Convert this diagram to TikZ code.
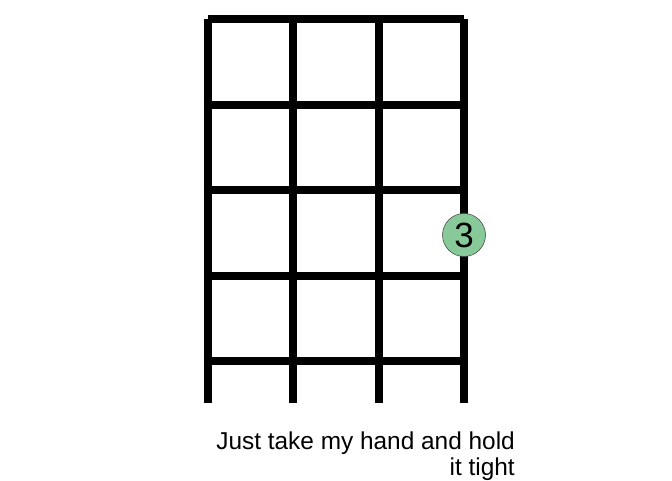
\documentclass[tikz,border=0pt]{standalone}
\usepackage{fontspec}
\setmainfont{Liberation Sans}
\begin{document}
\begin{tikzpicture}[x=1pt,y=-1pt,
  fret/.style={line width=8pt,line cap=butt},
  finger/.style={circle,draw=black!70,line width=0.6pt,fill={rgb,255:red,136;green,201;blue,153},minimum size=43pt,inner sep=0pt,font=\fontsize{35}{35}\selectfont},
  lyric/.style={align=right,font=\fontsize{24.4}{26}\selectfont,inner sep=0pt,anchor=north east}]
\useasboundingbox (0,0) rectangle (672,480);
% strings
\foreach \i/\x in {1/207.5,2/293,3/378.5,4/464}{
  \coordinate (s\i t) at (\x,19);
  \coordinate (s\i b) at (\x,403);
  \draw[fret] (s\i t) -- (s\i b);
}
% nut
\coordinate (nl) at (207.5,18.5);
\coordinate (nr) at (464,18.5);
\draw[fret] (nl) -- (nr);
% frets
\foreach \j/\y in {1/104.5,2/190,3/275.5,4/361}{
  \coordinate (f\j l) at (203.5,\y);
  \coordinate (f\j r) at (468,\y);
  \draw[fret] (f\j l) -- (f\j r);
}
\node[finger] (dot) at (464,235) {3};
\node[lyric] (txt) at (515,432) {Just take my hand and hold\\it tight};
\end{tikzpicture}
\end{document}
